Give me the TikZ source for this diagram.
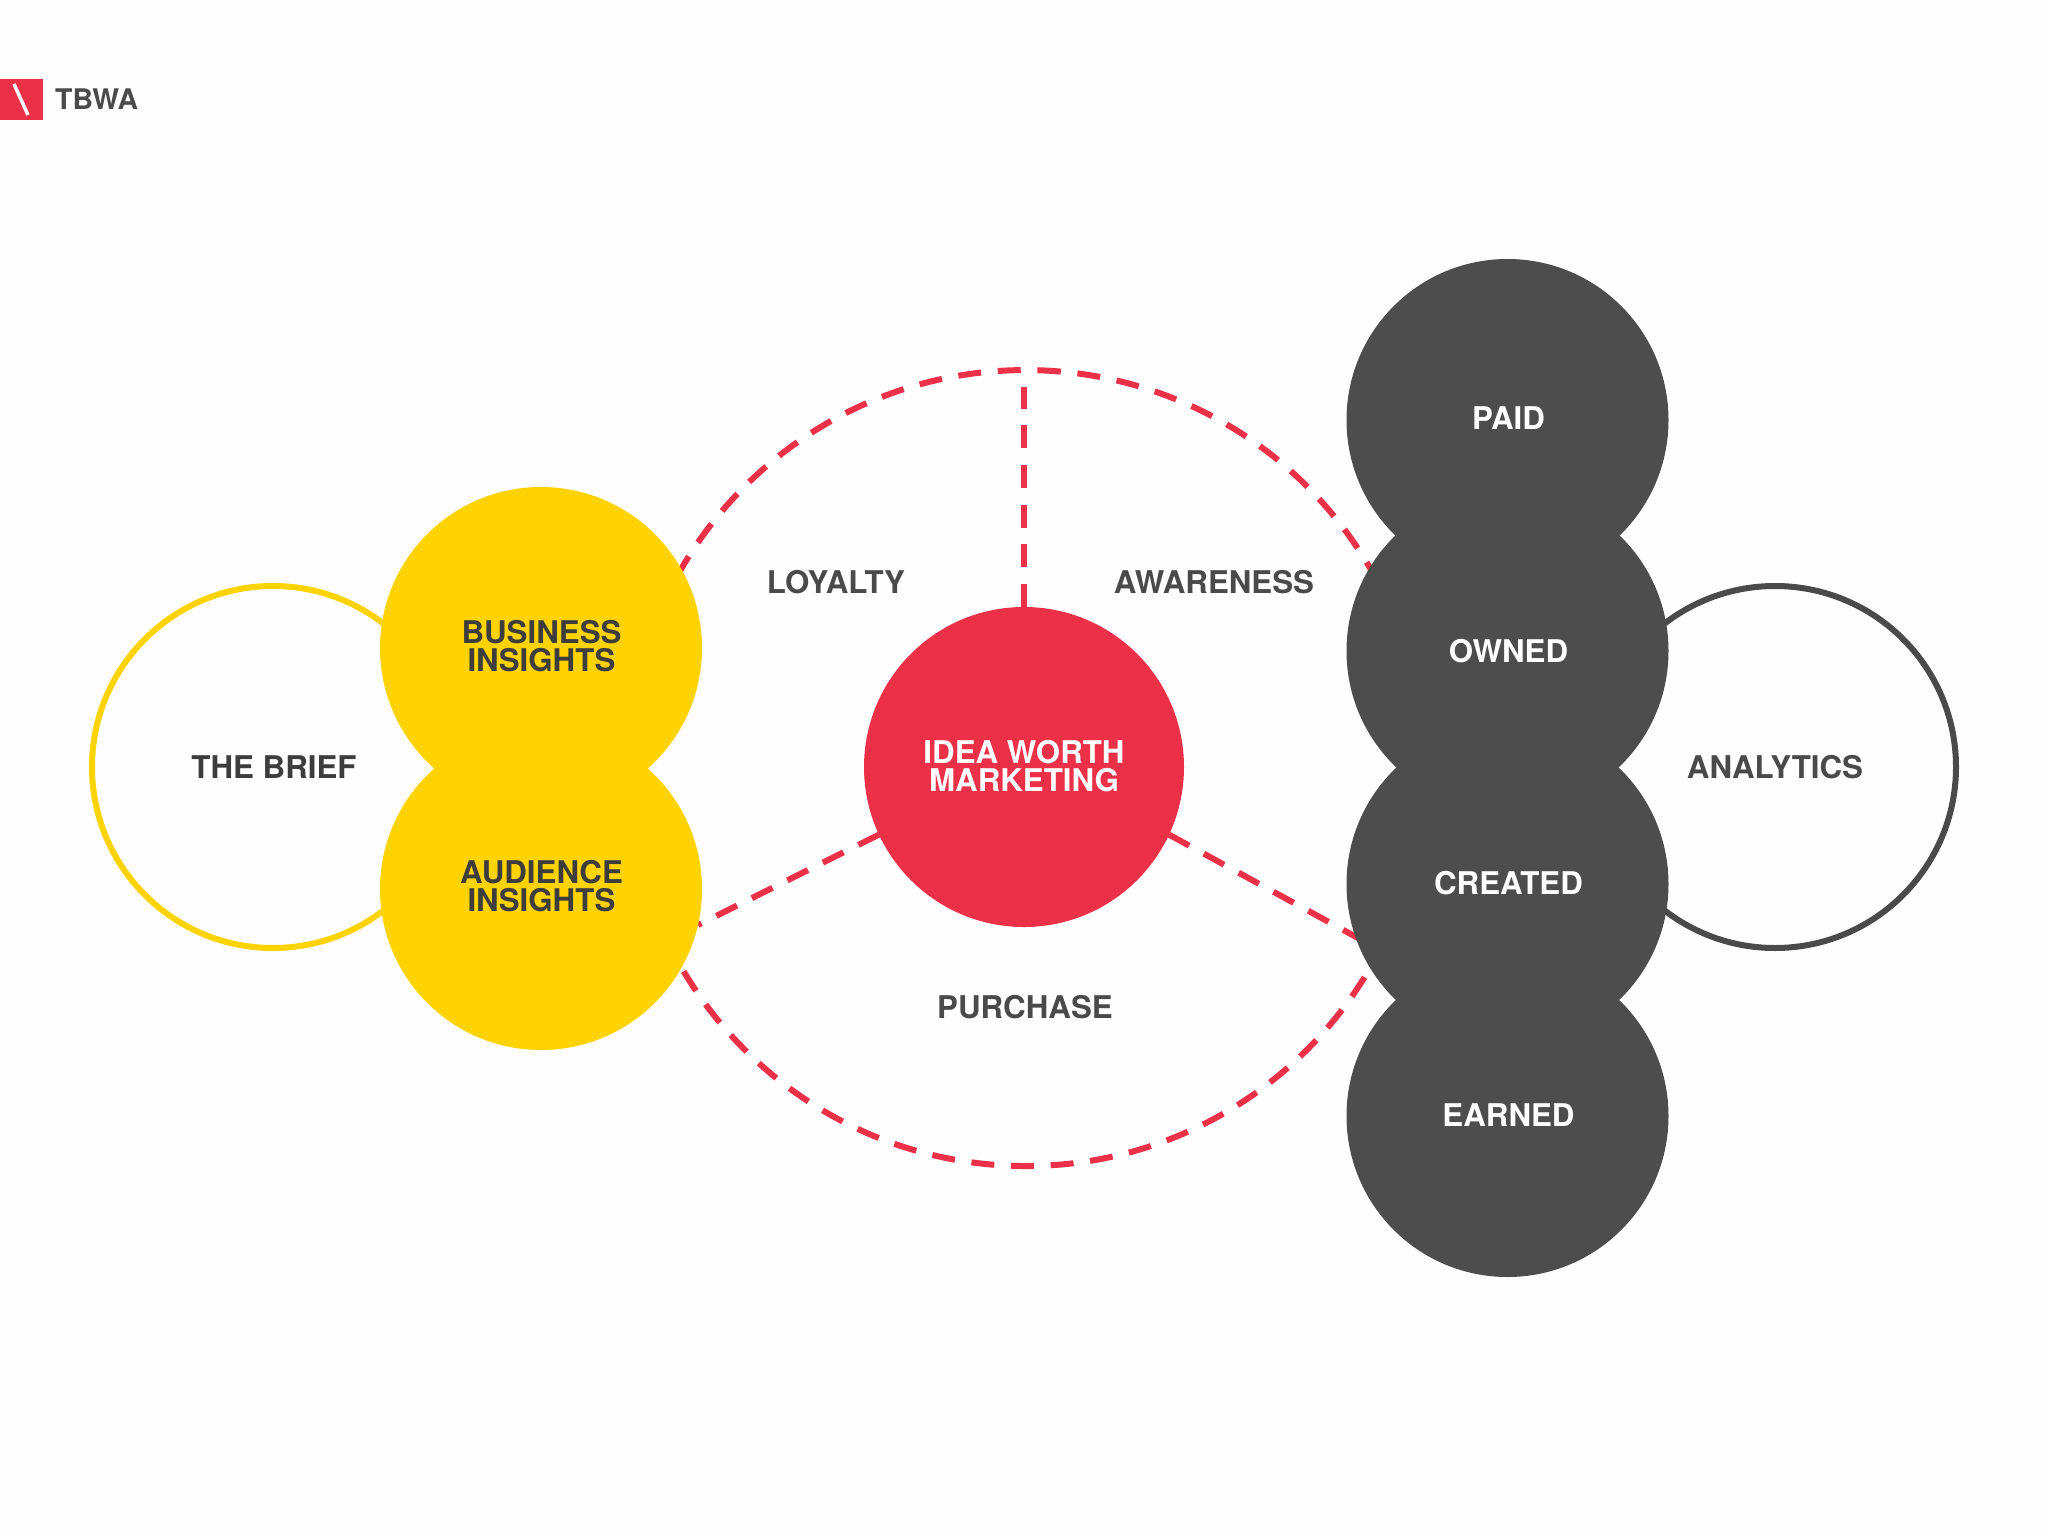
\documentclass[tikz,border=0pt]{standalone}
\usepackage{fontspec}
\setmainfont{TeX Gyre Heros}
\definecolor{tbred}{HTML}{EC3048}
\definecolor{tbyellow}{HTML}{FFD300}
\definecolor{tbdark}{HTML}{4D4D4D}
\definecolor{tbtext}{HTML}{4A4A4A}
\definecolor{tbink}{HTML}{3D3D3D}
\definecolor{tbpage}{HTML}{FEFEFE}
\tikzset{
  label font/.style={font=\fontsize{31.3}{28.7}\selectfont\bfseries, align=center, inner sep=0pt},
  plain label/.style={label font, text=tbtext},
  ink label/.style={label font, text=tbink},
  light label/.style={label font, text=white},
  disc/.style={circle, minimum size=322pt, inner sep=0pt, outer sep=0pt},
  yellow disc/.style={disc, fill=tbyellow},
  dark disc/.style={disc, fill=tbdark},
  red disc/.style={disc, minimum size=320pt, fill=tbred},
  open disc/.style={circle, minimum size=362pt, inner sep=0pt, line width=6pt, fill=tbpage},
  dash line/.style={draw=tbred, line width=6pt, dash pattern=on 23pt off 16.69pt},
}
\begin{document}
\begin{tikzpicture}[x=1pt,y=-1pt]
\useasboundingbox (0,0) rectangle (2048,1536);
\fill[tbpage] (0,0) rectangle (2048,1536);

% logo
\node[fill=tbred, minimum width=43pt, minimum height=41pt, inner sep=0pt, outer sep=0pt, anchor=north west] (logomark) at (0,79) {};
\coordinate (slashtop) at (14,84);
\coordinate (slashbot) at (28,115);
\draw[white, line width=3.5pt] (slashtop) -- (slashbot);
\node[anchor=west, inner sep=0pt, text=tbtext, font=\fontsize{28.4}{28}\selectfont\bfseries] (logotext) at (55,99) {TBWA};

% open circles
\node[open disc, draw=tbyellow] (brief) at (273,767) {};
\node[open disc, draw=tbtext] (analytics) at (1775,767) {};

% dashed ring and spokes
\node[circle, minimum size=796pt, inner sep=0pt, outer sep=0pt] (ring) at (1024,768) {};
\coordinate (spokeleft) at (698,925);
\coordinate (spokeright) at (1358,938);
\coordinate (spoketop) at (1024,387);
\draw[dash line] (ring.88.27) arc[start angle=88.27, end angle=-271.73, radius=398pt];

\node[red disc] (idea) at (1024,767) {};
\draw[dash line] (idea.north) -- (spoketop);
\draw[dash line] (idea.205) -- (spokeleft);
\draw[dash line] (idea.335) -- (spokeright);

% yellow discs
\node[yellow disc] (business) at (541,648) {};
\node[yellow disc] (audience) at (541,889) {};

% dark discs
\node[dark disc] (paid) at (1507.5,420) {};
\node[dark disc] (owned) at (1507.5,651) {};
\node[dark disc] (created) at (1507.5,884) {};
\node[dark disc] (earned) at (1507.5,1116) {};

% labels
\node[ink label] (brieftext) at (274,767) {THE BRIEF};
\node[plain label] (analyticstext) at (1775,767) {ANALYTICS};
\node[light label] (ideatext) at (1024,766) {IDEA WORTH\\MARKETING};
\node[ink label] (businesstext) at (541.5,646) {BUSINESS\\INSIGHTS};
\node[ink label] (audiencetext) at (541.5,886) {AUDIENCE\\INSIGHTS};
\node[light label] (paidtext) at (1508.5,418.5) {PAID};
\node[light label] (ownedtext) at (1508.5,651) {OWNED};
\node[light label] (createdtext) at (1508.5,883.5) {CREATED};
\node[light label] (earnedtext) at (1508.5,1115) {EARNED};
\node[plain label] (loyalty) at (836,582) {LOYALTY};
\node[plain label] (awareness) at (1214,582) {AWARENESS};
\node[plain label] (purchase) at (1025,1007) {PURCHASE};
\end{tikzpicture}
\end{document}
